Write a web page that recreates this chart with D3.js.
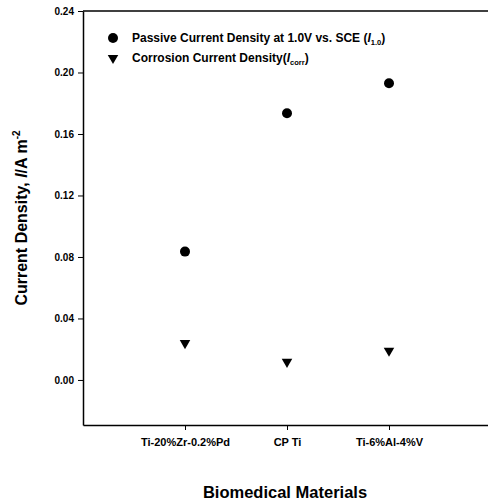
<!DOCTYPE html>
<html>
<head>
<meta charset="utf-8">
<script src="https://cdn.jsdelivr.net/npm/d3@7"></script>
<style>
  body { margin: 0; background: #fff; }
  text { font-family: "Liberation Sans", Arial, sans-serif; font-weight: bold; fill: #000; }
</style>
</head>
<body>
<svg id="chart" width="488" height="502"></svg>
<script>
// data
var materials = ["Ti-20%Zr-0.2%Pd", "CP Ti", "Ti-6%Al-4%V"];
var passive = [0.0835, 0.1735, 0.193];   // I1.0
var corrosion = [0.024, 0.0118, 0.019];  // Icorr
var yTicks = [0.00, 0.04, 0.08, 0.12, 0.16, 0.20, 0.24];

var svg = d3.select("#chart");

var margin = {top: 11, left: 83, right: -3, bottom: 77};
var width = 488 - margin.left - margin.right,
    height = 502 - margin.top - margin.bottom;

var x = d3.scaleLinear().domain([0, 4]).range([0, width]);
var y = d3.scaleLinear().domain([-0.0293, 0.24]).range([height, 0]);

var g = svg.append("g")
    .attr("transform", "translate(" + margin.left + "," + margin.top + ")");

// frame top line
g.append("line")
    .attr("x1", 0).attr("x2", width)
    .attr("y1", 0).attr("y2", 0)
    .attr("stroke", "#000").attr("stroke-width", 1.5);

// y axis
var yAxis = g.append("g")
    .call(d3.axisLeft(y).tickValues(yTicks).tickSize(5).tickPadding(4)
        .tickFormat(d3.format(".2f")).tickSizeOuter(0));
yAxis.select(".domain").attr("stroke-width", 1.5);
yAxis.selectAll("text").style("font-size", "10px");

// x axis
var xAxis = g.append("g")
    .attr("transform", "translate(0," + height + ")")
    .call(d3.axisBottom(x).tickValues([1, 2, 3]).tickSize(5).tickPadding(8)
        .tickFormat(function(d) { return materials[d - 1]; }).tickSizeOuter(0));
xAxis.select(".domain").attr("stroke-width", 1.5);
xAxis.selectAll("text").style("font-size", "11px");

// passive current density points
g.selectAll(".pass")
    .data(passive)
    .enter().append("circle")
    .attr("class", "pass")
    .attr("cx", function(d, i) { return x(i + 1); })
    .attr("cy", function(d) { return y(d); })
    .attr("r", 5)
    .attr("fill", "#000");

// corrosion current density points
var tri = d3.symbol().type(d3.symbolTriangle).size(48);
g.selectAll(".corr")
    .data(corrosion)
    .enter().append("path")
    .attr("class", "corr")
    .attr("d", tri)
    .attr("transform", function(d, i) {
        return "translate(" + x(i + 1) + "," + y(d) + ") rotate(180)";
    })
    .attr("fill", "#000");

// legend
var leg = g.append("g").attr("transform", "translate(30,27)");
leg.append("circle").attr("cx", 0).attr("cy", 0).attr("r", 5).attr("fill", "#000");
var t1 = leg.append("text").attr("x", 19).attr("y", 4).style("font-size", "12px");
t1.append("tspan").text("Passive Current Density at 1.0V vs. SCE (");
t1.append("tspan").style("font-style", "italic").text("I");
t1.append("tspan").attr("dy", 3).style("font-size", "7.5px").text("1.0");
t1.append("tspan").attr("dy", -3).text(")");

leg.append("path").attr("d", tri).attr("transform", "translate(0,20) rotate(180)").attr("fill", "#000");
var t2 = leg.append("text").attr("x", 19).attr("y", 24).style("font-size", "12px");
t2.append("tspan").text("Corrosion Current Density(");
t2.append("tspan").style("font-style", "italic").text("I");
t2.append("tspan").attr("dy", 3).style("font-size", "7.5px").text("corr");
t2.append("tspan").attr("dy", -3).text(")");

// axis titles
var yt = svg.append("text")
    .attr("transform", "translate(27,218) rotate(-90)")
    .attr("text-anchor", "middle")
    .style("font-size", "16px");
yt.append("tspan").text("Current Density, ");
yt.append("tspan").style("font-style", "italic").text("I");
yt.append("tspan").text("/A m");
yt.append("tspan").attr("dy", -7).style("font-size", "10px").text("-2");

svg.append("text")
    .attr("x", 285).attr("y", 498)
    .attr("text-anchor", "middle")
    .style("font-size", "16.5px")
    .text("Biomedical Materials");
</script>
</body>
</html>
